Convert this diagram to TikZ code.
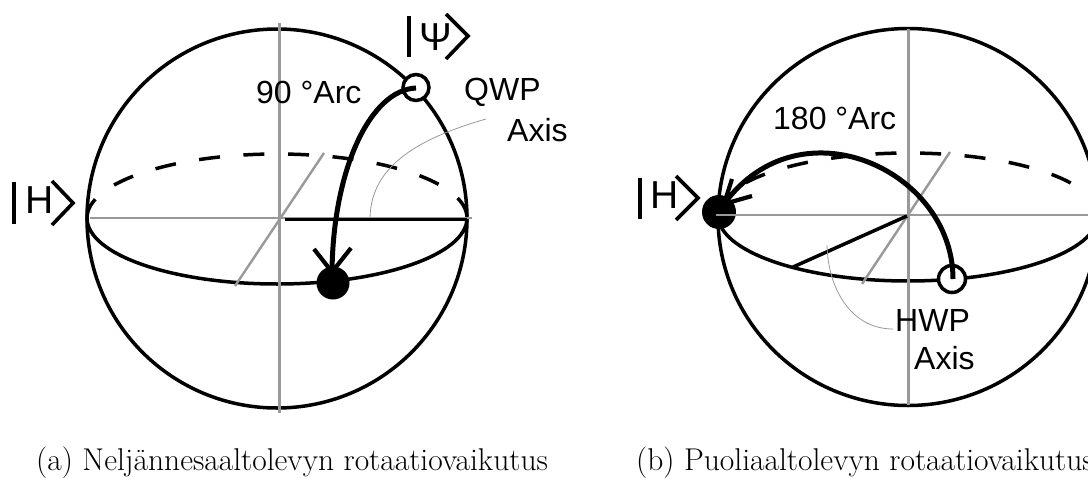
\documentclass[tikz,border=0pt]{standalone}
\usepackage{fontspec}
\setsansfont{Liberation Sans}
\tikzset{
  sph/.style={draw=black,line width=3.5pt},
  guide/.style={draw=black!40,line width=2.4pt},
  thin guide/.style={draw=black!40,line width=0.8pt},
  backeq/.style={draw=black,line width=3.5pt,dash pattern=on 21pt off 23.6pt},
  rotarc/.style={draw=black,line width=5pt},
  barb/.style={draw=black,line width=4.2pt},
  ket/.style={draw=black,line width=3.6pt},
  lab/.style={inner sep=0pt,font=\sffamily\fontsize{32}{36}\selectfont},
  ketlab/.style={inner sep=0pt,font=\sffamily\fontsize{39}{42}\selectfont},
  captext/.style={inner sep=0pt,anchor=base west,font=\fontsize{31.5}{34}\selectfont},
  startdot/.style={circle,draw=black,line width=3.5pt,fill=white,inner sep=0pt},
  enddot/.style={circle,fill=black,inner sep=0pt}
}
\begin{document}
\begin{tikzpicture}[x=1pt,y=-1pt]
\useasboundingbox (0,0) rectangle (1088,479);
\clip (0,0) rectangle (1088,479);
% ---- (a)
\coordinate (aL) at (87,218);
\coordinate (aR) at (467,218);
\coordinate (aO) at (280,218);
\draw[sph] (277,218.5) ellipse[x radius=190pt,y radius=189.5pt];
\draw[sph] (aL) arc[start angle=180,end angle=360,x radius=190pt,y radius=66pt];
\draw[backeq] (aL) arc[start angle=180,end angle=0,x radius=190pt,y radius=64pt];
\draw[guide] (279.5,23) -- (279.5,413);
\draw[guide] (90,218) -- (472,218);
\draw[guide] (324,153) -- (235,286);
\draw[sph] (285,219.5) -- (467,219.5);
\draw[thin guide] (486,119) .. controls (420,138) and (371,165) .. (370,218);
\node[startdot,minimum size=26pt] (apsi) at (416,87.5) {};
\node[enddot,minimum size=33pt] (ah) at (333,283) {};
\coordinate (atip) at (332,272);
\draw[rotarc] (416,88) .. controls (370,90) and (333,170) .. (atip);
\draw[barb] (314,249) -- (atip) -- (351,248);
\node[lab,anchor=west] (a90) at (256,92) {90 °Arc};
\node[lab,anchor=west] (aq) at (464,92) {QWP};
\node[lab,anchor=west] (aa) at (507,130) {Axis};
\draw[ket] (409,16) -- (409,57);
\node[ketlab] (apsil) at (436,37) {Ψ};
\draw[ket] (446,14) -- (468,36) -- (446,59);
\draw[ket] (14,182) -- (14,224);
\node[ketlab] (ahl) at (39.5,200) {H};
\draw[ket] (52,181) -- (73,203) -- (52,225);
\node[captext] (capa) at (36,470) {(a) Neljännesaaltolevyn rotaatiovaikutus};
% ---- (b)
\coordinate (bL) at (718,215);
\coordinate (bO) at (907,216);
\draw[sph] (908,217) ellipse[x radius=190pt,y radius=188.5pt];
\draw[sph] (bL) arc[start angle=180,end angle=360,x radius=190pt,y radius=66pt];
\draw[backeq] (bL) arc[start angle=180,end angle=0,x radius=190pt,y radius=62pt];
\node[enddot,minimum size=34pt] (bh) at (719,212) {};
\draw[guide] (908.5,29) -- (908.5,405);
\draw[guide] (716,215) -- (1088,215);
\draw[guide] (950,152) -- (862,284);
\draw[sph] (907,216) -- (793,267);
\draw[thin guide] (827,245) .. controls (828,290) and (852,329) .. (893,329);
\node[startdot,minimum size=27pt] (bpsi) at (952,279) {};
\coordinate (btip) at (724,204);
\draw[rotarc] (953,279) .. controls (953,170) and (800,100) .. (btip);
\draw[barb] (732,179) -- (btip) -- (752,196);
\node[lab,anchor=west] (b180) at (773,118) {180 °Arc};
\node[lab,anchor=west] (bq) at (895,320) {HWP};
\node[lab,anchor=west] (ba) at (914,358) {Axis};
\draw[ket] (640,178) -- (640,219);
\node[ketlab] (bhl) at (665,195) {H};
\draw[ket] (676,176) -- (698,198) -- (676,220);
\node[captext] (capb) at (636,470) {(b) Puoliaaltolevyn rotaatiovaikutus};
\end{tikzpicture}
\end{document}
